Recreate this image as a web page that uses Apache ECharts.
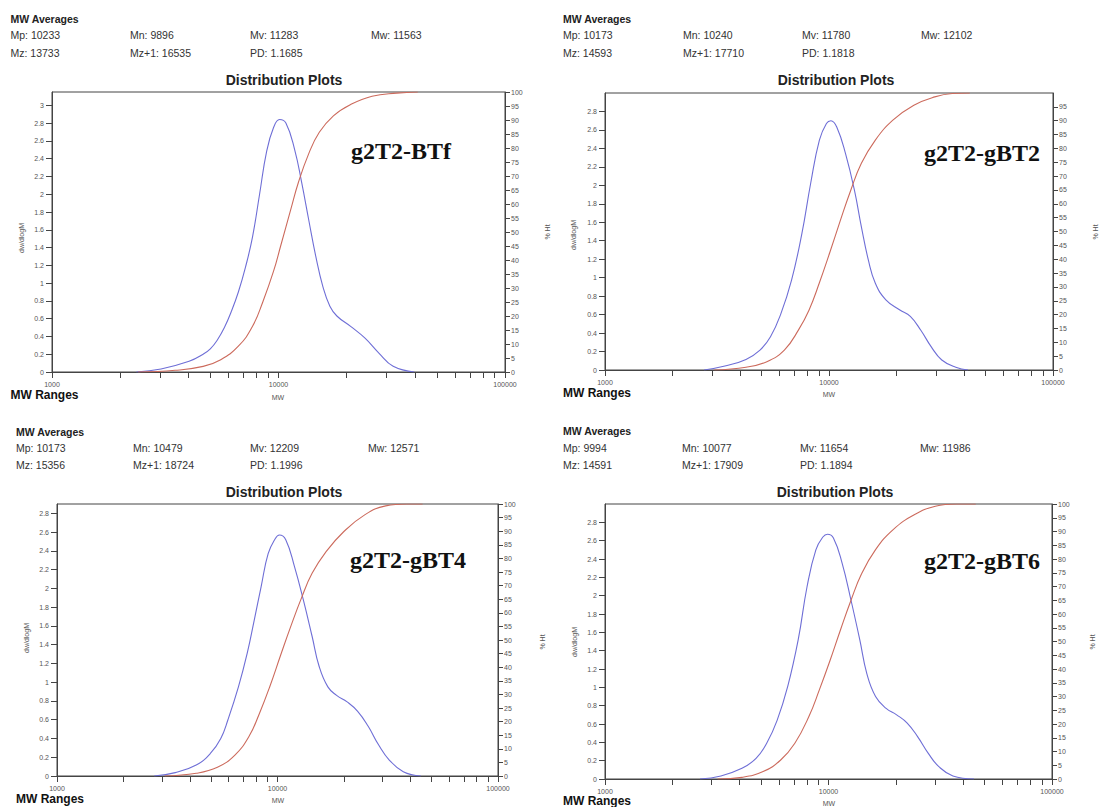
<!DOCTYPE html>
<html><head><meta charset="utf-8">
<script src="https://cdn.jsdelivr.net/npm/echarts@6/dist/echarts.min.js"></script>
<style>html,body{margin:0;padding:0;background:#fff}#c{width:1099px;height:807px}</style>
</head><body><div id="c"></div>
<script>
// ---------------- DATA ----------------
const sampleNames = ['g2T2-BTf', 'g2T2-gBT2', 'g2T2-gBT4', 'g2T2-gBT6'];
const averageKeys = ['Mp', 'Mn', 'Mv', 'Mw', 'Mz', 'Mz+1', 'PD'];
const averagesBTf  = ['10233', '9896',  '11283', '11563', '13733', '16535', '1.1685'];
const averagesGBT2 = ['10173', '10240', '11780', '12102', '14593', '17710', '1.1818'];
const averagesGBT4 = ['10173', '10479', '12209', '12571', '15356', '18724', '1.1996'];
const averagesGBT6 = ['9994',  '10077', '11654', '11986', '14591', '17909', '1.1894'];

// dw/dlogM vs MW
const dwBTf = [[2360,0],[3030,0.034],[4030,0.12],[4650,0.2],[5000,0.26],[5370,0.36],[5770,0.50],[6190,0.68],[6650,0.90],[7150,1.18],[7680,1.52],[8250,2.0],[8860,2.48],[9510,2.75],[10110,2.84],[10780,2.80],[11790,2.50],[12660,2.13],[13600,1.71],[14610,1.30],[15700,0.96],[16860,0.74],[18100,0.63],[20890,0.51],[24100,0.38],[27810,0.21],[32080,0.064],[39760,0]];
const dwGBT2 = [[2770,0],[3430,0.043],[4260,0.115],[4920,0.216],[5480,0.36],[6100,0.61],[6800,0.97],[7570,1.48],[8280,2.02],[9060,2.49],[9740,2.67],[10200,2.70],[10840,2.63],[11860,2.34],[12980,1.95],[13950,1.55],[14990,1.19],[16100,0.94],[17940,0.76],[20720,0.65],[23070,0.58],[25700,0.43],[28620,0.25],[31880,0.108],[36810,0.029],[41750,0]];
const dwGBT4 = [[2760,0],[3440,0.036],[4280,0.117],[4960,0.24],[5530,0.40],[5960,0.60],[6650,0.95],[7290,1.31],[7840,1.66],[8430,2.02],[9070,2.37],[9760,2.53],[10200,2.57],[10900,2.52],[11950,2.23],[13090,1.88],[14350,1.49],[15440,1.17],[16920,0.95],[18540,0.86],[20690,0.79],[23100,0.69],[25780,0.53],[28770,0.33],[32130,0.17],[37190,0.046],[44670,0]];
const dwGBT6 = [[2660,0],[3300,0.033],[4100,0.116],[4740,0.225],[5290,0.39],[5890,0.64],[6570,1.01],[7320,1.52],[8020,2.10],[8780,2.50],[9440,2.64],[9890,2.67],[10520,2.63],[11520,2.35],[12610,1.95],[13800,1.52],[14840,1.15],[16240,0.90],[18110,0.77],[20180,0.70],[22500,0.61],[25080,0.46],[27960,0.28],[31170,0.135],[36030,0.033],[44770,0]];

// cumulative % Ht vs MW
const htBTf = [[2400,0],[3500,0.6],[4650,2.0],[5560,4.4],[6650,9.2],[7680,16.3],[8540,25.2],[9510,36.0],[10220,45.0],[11370,58.5],[12220,67.5],[13600,78.0],[15140,85.6],[17470,91.5],[20890,95.6],[25880,98.5],[33240,99.6],[41200,100]];
const htGBT2 = [[3080,0],[4260,1.0],[5280,3.0],[6320,7.2],[7300,14.4],[8140,21.6],[9060,31.5],[10090,42.5],[11240,54.0],[12520,65.0],[13950,74.6],[16100,83.0],[19280,90.2],[23920,95.6],[29670,98.6],[35510,99.8],[42510,100]];
const htGBT4 = [[3080,0],[4280,1.0],[5340,3.2],[6410,7.7],[7420,14.5],[8280,23.0],[9240,33.0],[10320,44.3],[11520,55.3],[12850,65.5],[14350,74.5],[16610,82.5],[19950,89.8],[24860,96.0],[30960,99.3],[38590,100],[45490,100]];
const htGBT6 = [[3190,0],[4100,0.6],[5100,2.7],[6110,6.9],[7070,13.0],[8170,22.7],[9100,32.4],[10150,43.0],[11310,54.2],[12610,65.0],[14060,74.6],[16240,83.4],[19470,90.7],[24190,96.1],[30060,99.2],[37350,100],[45580,100]];

const xTickValues = [1000,2000,3000,4000,5000,6000,7000,8000,9000,10000,20000,30000,40000,50000,60000,70000,80000,90000,100000];
const xLabelValues = [1000, 10000, 100000];
const leftAxisMax = [3.15, 3.0, 2.9, 3.0];
const rightAxisMax = [100, 100, 100, 100];

// ---------------- LAYOUT / STYLE ----------------
const FONT = '"Liberation Sans", Arial, sans-serif';
const SERIF = '"Liberation Serif", "Times New Roman", serif';
const BLUE = '#6e6ed6';
const RED = '#cc6a5c';
const AXIS = '#444';

const layouts = [
  {grid:[52,92,453,280], hx:10.5, cols:[10.5,130,250,371], ry:[19,35,53], title:[284,80], tag:[351,158], ranges:[10.5,395], mw:[278,397], yName:[21,238], rName:[547,232], showRightMax:true},
  {grid:[605,93,448,277], hx:563, cols:[563,683,802,921], ry:[19,35,53], title:[836,80], tag:[924,160], ranges:[563,393], mw:[829,394], yName:[573,235], rName:[1095,232], showRightMax:false},
  {grid:[57,504,441,272], hx:16, cols:[16,133,250,368], ry:[432,448,465], title:[284,492], tag:[350,567], ranges:[16,799], mw:[278,800], yName:[26,638], rName:[542,642], showRightMax:true},
  {grid:[605,504,447,275], hx:563, cols:[563,682,800,920], ry:[431,448,465], title:[835,492], tag:[924,568], ranges:[563,801], mw:[829,803], yName:[574,642], rName:[1092,642], showRightMax:true}
];

const allAverages = [averagesBTf, averagesGBT2, averagesGBT4, averagesGBT6];
const allDw = [dwBTf, dwGBT2, dwGBT4, dwGBT6];
const allHt = [htBTf, htGBT2, htGBT4, htGBT6];

function txt(x, y, text, o) {
  o = o || {};
  const align = o.align || 'left';
  return {
    type: 'text', x: x, y: y, rotation: o.rot || 0, silent: true, z: 100,
    style: {
      text: text, fill: o.fill || '#333', fontSize: o.size || 10.5,
      fontWeight: o.weight || 'normal', fontFamily: o.family || FONT,
      align: align, verticalAlign: 'middle', textAlign: align, textVerticalAlign: 'middle'
    }
  };
}

const grids = [], xAxes = [], yAxes = [], series = [], graphics = [];
const log10 = v => Math.log10(v);

layouts.forEach((L, i) => {
  grids.push({left: L.grid[0], top: L.grid[1], width: L.grid[2], height: L.grid[3],
    show: true, borderColor: AXIS, borderWidth: 1, backgroundColor: 'transparent'});

  xAxes.push({
    gridIndex: i, type: 'value', min: 3, max: 5, interval: 1,
    axisLine: {show: true, onZero: false, lineStyle: {color: AXIS, width: 1}},
    axisTick: {show: true, length: 6, customValues: xTickValues.map(log10), lineStyle: {color: AXIS}},
    axisLabel: {fontSize: 7, color: '#555', margin: 9, fontFamily: FONT,
      customValues: xLabelValues.map(log10),
      formatter: v => String(Math.round(Math.pow(10, v)))},
    splitLine: {show: false}
  });

  yAxes.push({
    gridIndex: i, type: 'value', position: 'left', min: 0, max: leftAxisMax[i], interval: 0.2,
    axisLine: {show: true, lineStyle: {color: AXIS, width: 1}},
    axisTick: {show: true, length: 6, lineStyle: {color: AXIS}},
    axisLabel: {fontSize: 7, color: '#555', margin: 8, fontFamily: FONT, showMaxLabel: false, showMinLabel: true},
    splitLine: {show: false}
  });
  yAxes.push({
    gridIndex: i, type: 'value', position: 'right', min: 0, max: rightAxisMax[i], interval: 5,
    axisLine: {show: true, lineStyle: {color: AXIS, width: 1}},
    axisTick: {show: true, length: 5, lineStyle: {color: AXIS}},
    axisLabel: {fontSize: 7, color: '#555', margin: 6, fontFamily: FONT, showMaxLabel: L.showRightMax, showMinLabel: true},
    splitLine: {show: false}
  });

  series.push({
    type: 'line', xAxisIndex: i, yAxisIndex: 2 * i, name: sampleNames[i] + ' dw/dlogM',
    data: allDw[i].map(p => [log10(p[0]), p[1]]),
    smooth: 0.45, showSymbol: false, symbol: 'none', silent: true,
    lineStyle: {color: BLUE, width: 1.1}, itemStyle: {color: BLUE}
  });
  series.push({
    type: 'line', xAxisIndex: i, yAxisIndex: 2 * i + 1, name: sampleNames[i] + ' % Ht',
    data: allHt[i].map(p => [log10(p[0]), p[1]]),
    smooth: 0.45, showSymbol: false, symbol: 'none', silent: true,
    lineStyle: {color: RED, width: 1.1}, itemStyle: {color: RED}
  });

  // header text
  const av = allAverages[i];
  graphics.push(txt(L.hx, L.ry[0], 'MW Averages', {weight: 'bold', size: 10.5, fill: '#222'}));
  for (let k = 0; k < 4; k++) graphics.push(txt(L.cols[k], L.ry[1], averageKeys[k] + ': ' + av[k]));
  for (let k = 4; k < 7; k++) graphics.push(txt(L.cols[k - 4], L.ry[2], averageKeys[k] + ': ' + av[k]));
  graphics.push(txt(L.title[0], L.title[1], 'Distribution Plots', {weight: 'bold', size: 14, fill: '#222', align: 'center'}));
  graphics.push(txt(L.tag[0], L.tag[1] - 7, sampleNames[i], {weight: 'bold', size: 24, fill: '#111', family: SERIF}));
  graphics.push(txt(L.ranges[0], L.ranges[1], 'MW Ranges', {weight: 'bold', size: 12, fill: '#111'}));
  graphics.push(txt(L.mw[0], L.mw[1], 'MW', {size: 7, fill: '#555', align: 'center'}));
  graphics.push(txt(L.yName[0], L.yName[1], 'dw/dlogM', {size: 7, fill: '#555', align: 'center', rot: Math.PI / 2}));
  graphics.push(txt(L.rName[0], L.rName[1], '% Ht', {size: 7, fill: '#555', align: 'center', rot: Math.PI / 2}));
});

const chart = echarts.init(document.getElementById('c'), null, {renderer: 'svg'});
chart.setOption({
  animation: false,
  backgroundColor: '#fff',
  grid: grids,
  xAxis: xAxes,
  yAxis: yAxes,
  series: series,
  graphic: {elements: graphics}
});
</script></body></html>
